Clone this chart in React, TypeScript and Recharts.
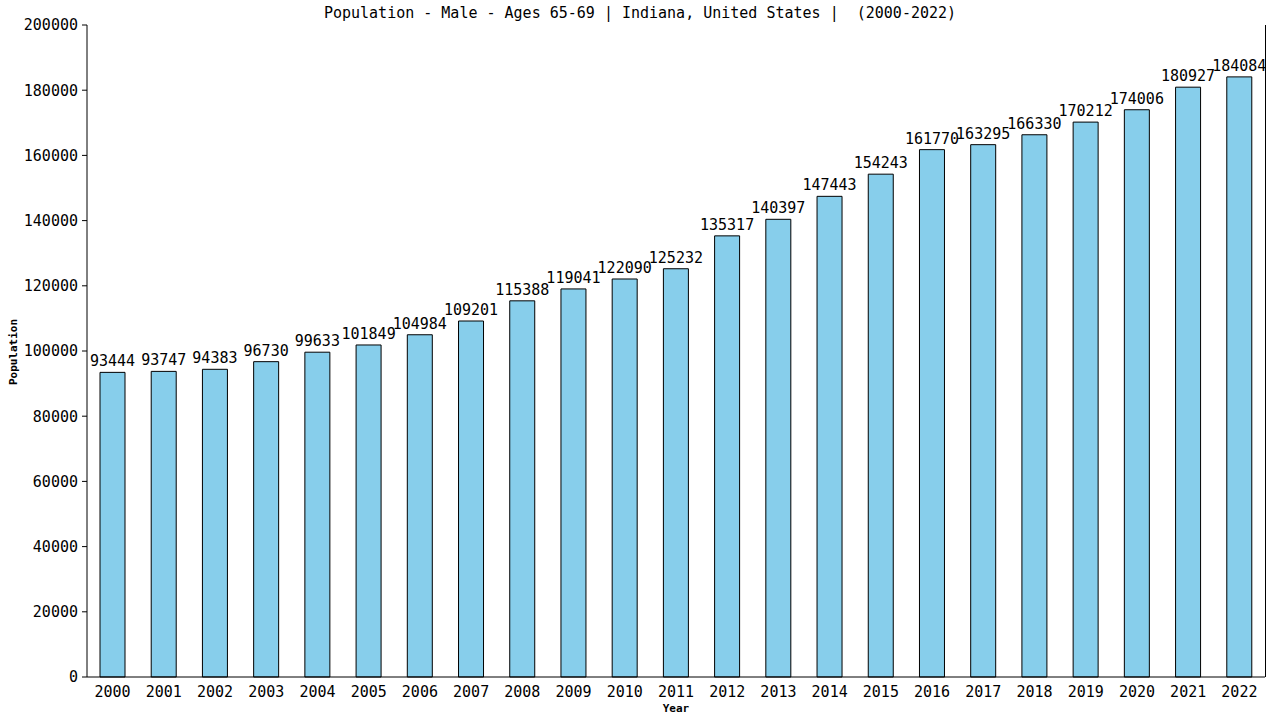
import { BarChart, Bar, XAxis, YAxis, LabelList } from "recharts";

const years = ["2000", "2001", "2002", "2003", "2004", "2005", "2006", "2007", "2008", "2009", "2010", "2011", "2012", "2013", "2014", "2015", "2016", "2017", "2018", "2019", "2020", "2021", "2022"];
const population = [93444, 93747, 94383, 96730, 99633, 101849, 104984, 109201, 115388, 119041, 122090, 125232, 135317, 140397, 147443, 154243, 161770, 163295, 166330, 170212, 174006, 180927, 184084];
const yTicks = [0, 20000, 40000, 60000, 80000, 100000, 120000, 140000, 160000, 180000, 200000];

const font = "'DejaVu Sans Mono', monospace";

const data = years.map((year, i) => ({ year, population: population[i] }));

export default function App() {
  return (
    <div style={{ position: "absolute", left: 0, top: 0, width: 1280, height: 720, background: "#fff" }}>
      <BarChart
        width={1280}
        height={720}
        data={data}
        margin={{ top: 25, right: 15, bottom: 13, left: 7 }}
      >
        <XAxis
          dataKey="year"
          height={30}
          tickLine={false}
          axisLine={{ stroke: "#000" }}
          tick={{ fill: "#000", fontSize: 15, fontFamily: font }}
          tickMargin={3}
          interval={0}
        />
        <YAxis
          domain={[0, 200000]}
          ticks={yTicks}
          width={80}
          axisLine={{ stroke: "#000" }}
          tickLine={{ stroke: "#000" }}
          tickSize={5}
          tick={{ fill: "#000", fontSize: 15, fontFamily: font }}
          tickMargin={4}
        />
        <Bar dataKey="population" barSize={25} fill="#87ceeb" stroke="#000" isAnimationActive={false}>
          <LabelList dataKey="population" position="top" offset={6} fill="#000" fontSize={15} fontFamily={font} />
        </Bar>
      </BarChart>
      <div
        style={{
          position: "absolute",
          top: 3,
          left: 0,
          width: 1280,
          zIndex: 5,
          textAlign: "center",
          fontFamily: font,
          fontSize: 15,
          lineHeight: "20px",
          color: "#000",
          whiteSpace: "pre",
        }}
      >
        Population - Male - Ages 65-69 | Indiana, United States |  (2000-2022)
      </div>
      <div style={{ position: "absolute", left: 1265, top: 25, width: 1, height: 652, background: "#000" }} />
      <div
        style={{
          position: "absolute",
          top: 702,
          width: 1280,
          left: 36,
          textAlign: "center",
          fontFamily: font,
          fontSize: 11,
          fontWeight: "bold",
        }}
      >
        Year
      </div>
      <div
        style={{
          position: "absolute",
          left: 13,
          top: 352,
          transform: "translate(-50%, -50%) rotate(-90deg)",
          fontFamily: font,
          fontSize: 11,
          fontWeight: "bold",
          whiteSpace: "nowrap",
        }}
      >
        Population
      </div>
    </div>
  );
}
